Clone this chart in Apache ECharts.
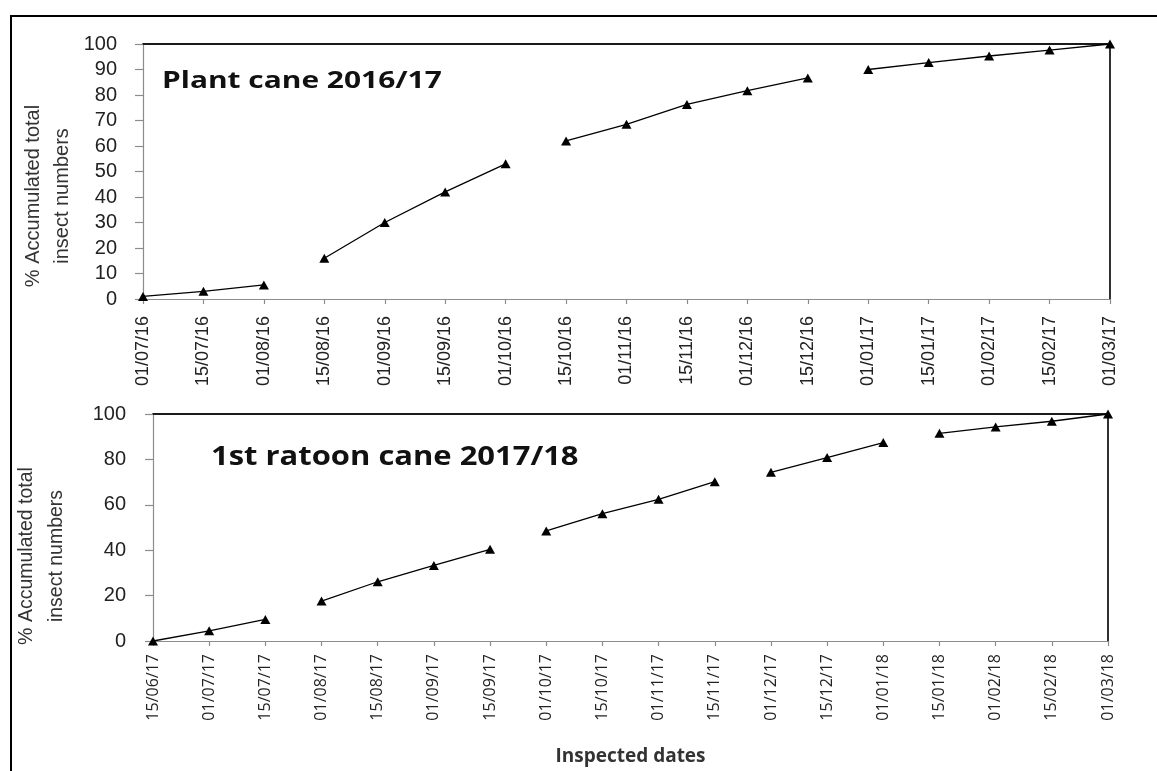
<!DOCTYPE html>
<html>
<head>
<meta charset="utf-8">
<script src="https://cdn.jsdelivr.net/npm/echarts@6/dist/echarts.min.js"></script>
<style>
html,body{margin:0;padding:0;background:#fff;}
#chart{width:1157px;height:771px;}
</style>
</head>
<body>
<div id="chart"></div>
<script>
// ---- data ----
const topDates = ['01/07/16','15/07/16','01/08/16','15/08/16','01/09/16','15/09/16','01/10/16','15/10/16','01/11/16','15/11/16','01/12/16','15/12/16','01/01/17','15/01/17','01/02/17','15/02/17','01/03/17'];
const topValues = [1, 3, 5.5, 16, 30, 42, 53, 62, 68.5, 76.3, 81.7, 86.7, 90, 92.7, 95.3, 97.6, 100];
const topSegments = [[0, 2], [3, 6], [7, 11], [12, 16]];

const bottomDates = ['15/06/17','01/07/17','15/07/17','01/08/17','15/08/17','01/09/17','15/09/17','01/10/17','15/10/17','01/11/17','15/11/17','01/12/17','15/12/17','01/01/18','15/01/18','01/02/18','15/02/18','01/03/18'];
const bottomValues = [0, 4.5, 9.5, 17.6, 26.1, 33.3, 40.4, 48.5, 56.1, 62.4, 70.2, 74.3, 80.8, 87.4, 91.5, 94.3, 96.8, 100];
const bottomSegments = [[0, 2], [3, 6], [7, 10], [11, 13], [14, 17]];

const topTitle = 'Plant cane 2016/17';
const bottomTitle = '1st ratoon cane 2017/18';
const yName = '% Accumulated total\ninsect numbers';
const xName = 'Inspected dates';
const topYMax = 100, topYStep = 10;
const bottomYMax = 100, bottomYStep = 20;

// ---- chart ----
const chart = echarts.init(document.getElementById('chart'), null, {renderer: 'canvas'});

function segSeries(values, segments, axisIdx) {
  return segments.map(([a, b]) => ({
    type: 'line',
    xAxisIndex: axisIdx,
    yAxisIndex: axisIdx,
    data: values.map((v, i) => (i >= a && i <= b) ? v : null),
    connectNulls: false,
    symbol: 'triangle',
    symbolSize: [10, 9],
    showSymbol: true,
    lineStyle: {color: '#000', width: 1.3},
    itemStyle: {color: '#000'},
    z: 5,
    silent: true,
    animation: false
  }));
}

const grayAxis = {show: true, onZero: false, lineStyle: {color: '#8c8c8c', width: 1.2}};
const darkAxis = {show: true, onZero: false, lineStyle: {color: '#1a1a1a', width: 1.8}};

function mainX(data, idx, labelFont, labelSize, margin, extra) {
  return Object.assign({
    type: 'category',
    gridIndex: idx,
    data: data,
    boundaryGap: false,
    position: 'bottom',
    axisLine: grayAxis,
    axisTick: {show: true, inside: false, length: 5, alignWithLabel: true, lineStyle: {color: '#8c8c8c', width: 1.2}},
    axisLabel: {show: true, interval: 0, rotate: 90, margin: margin, color: '#222', fontFamily: labelFont, fontSize: labelSize},
    splitLine: {show: false}
  }, extra || {});
}
function topBorderX(data, idx) {
  return {
    type: 'category', gridIndex: idx, data: data, boundaryGap: false, position: 'top',
    axisLine: darkAxis, axisTick: {show: false}, axisLabel: {show: false}, splitLine: {show: false}
  };
}
function mainY(idx, max, step, margin) {
  return {
    type: 'value', gridIndex: idx, min: 0, max: max, interval: step, position: 'left',
    axisLine: grayAxis,
    axisTick: {show: true, length: 8, lineStyle: {color: '#8c8c8c', width: 1.2}},
    axisLabel: {margin: margin, color: '#222', fontFamily: '"Liberation Sans", Arial, sans-serif', fontSize: 20},
    splitLine: {show: false}
  };
}
function rightBorderY(idx, max, step) {
  return {
    type: 'value', gridIndex: idx, min: 0, max: max, interval: step, position: 'right',
    axisLine: darkAxis, axisTick: {show: false}, axisLabel: {show: false}, splitLine: {show: false}
  };
}

const option = {
  animation: false,
  backgroundColor: '#fff',
  grid: [
    {left: 143, right: 47, top: 44, height: 255, containLabel: false, outerBoundsMode: 'none'},
    {left: 153, right: 49, top: 414, height: 227, containLabel: false, outerBoundsMode: 'none'}
  ],
  xAxis: [
    mainX(topDates, 0, '"Liberation Sans", Arial, sans-serif', 18, 17),
    mainX(bottomDates, 1, '"Open Sans", sans-serif', 16, 13, {
      name: xName,
      nameLocation: 'middle',
      nameGap: 106,
      nameTextStyle: {fontFamily: '"Open Sans", sans-serif', fontWeight: 'bold', fontSize: 19, color: '#333'}
    }),
    topBorderX(topDates, 0),
    topBorderX(bottomDates, 1)
  ],
  yAxis: [
    mainY(0, topYMax, topYStep, 26),
    mainY(1, bottomYMax, bottomYStep, 27),
    rightBorderY(0, topYMax, topYStep),
    rightBorderY(1, bottomYMax, bottomYStep)
  ],
  series: [].concat(segSeries(topValues, topSegments, 0), segSeries(bottomValues, bottomSegments, 1)),
  graphic: [
    {
      type: 'polyline', silent: true, z: 10,
      shape: {points: [[11, 771], [11, 16], [1157, 16]]},
      style: {stroke: '#000', lineWidth: 2, fill: null}
    },
    {
      type: 'text', x: 162, y: 81, scaleX: 1.3, silent: true,
      style: {text: topTitle, font: 'bold 23px "Open Sans", sans-serif', fill: '#111', textAlign: 'left', textVerticalAlign: 'middle'}
    },
    {
      type: 'text', x: 211, y: 458, scaleX: 1.19, silent: true,
      style: {text: bottomTitle, font: 'bold 26px "Open Sans", sans-serif', fill: '#111', textAlign: 'left', textVerticalAlign: 'middle'}
    },
    {
      type: 'text', x: 48, y: 196, rotation: Math.PI / 2, silent: true,
      style: {text: yName, font: '20px "Liberation Sans", Arial, sans-serif', lineHeight: 29, fill: '#333', textAlign: 'center', textVerticalAlign: 'middle'}
    },
    {
      type: 'text', x: 42, y: 556, rotation: Math.PI / 2, silent: true,
      style: {text: yName, font: '19.5px "Liberation Sans", Arial, sans-serif', lineHeight: 30, fill: '#333', textAlign: 'center', textVerticalAlign: 'middle'}
    }
  ]
};
chart.setOption(option);
</script>
</body>
</html>
